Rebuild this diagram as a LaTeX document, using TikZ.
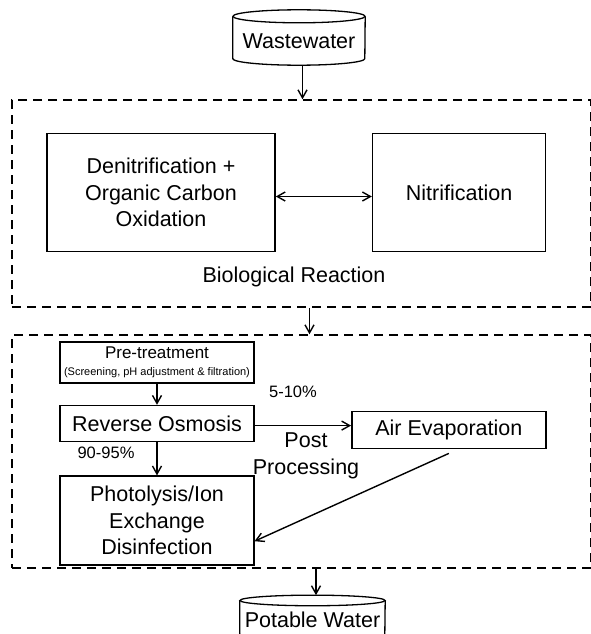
\documentclass[tikz,border=0pt]{standalone}
\usepackage{fontspec}
\setmainfont{Liberation Sans}
\usetikzlibrary{arrows.meta,positioning}

\begin{document}
\begin{tikzpicture}[x=1pt, y=-1pt, >={Straight Barb[length=8pt,width=9pt]},
    font=\fontsize{21.5}{26.5}\selectfont, node distance=20pt,
    box/.style={draw, line width=1.6pt, align=center, inner sep=0pt},
    frame/.style={draw, dash pattern=on 9pt off 6pt, line width=1.5pt, minimum width=579pt, inner sep=0pt},
    tank/.style={inner sep=0pt},
    tankline/.style={line width=1.3pt},
    flow/.style={->, line width=1.4pt}]
  \useasboundingbox (0,0) rectangle (590,634);
  \node[tank, minimum width=132pt, minimum height=48.5pt] (ww) at (299,40.75) {Wastewater};
  \draw[tankline] (ww.north) ellipse[x radius=66pt, y radius=6.5pt];
  \draw[tankline] (ww.north west) -- ([yshift=6.5pt]ww.south west) arc[start angle=180, end angle=360, x radius=66pt, y radius=6.5pt] -- (ww.north east);
  \node[frame, minimum height=207pt] (bio) at (301.5,203.5) {};
  \node[box, minimum width=228pt, minimum height=118pt] (denit) at (161,192.5) {Denitrification +\\Organic Carbon\\Oxidation};
  \node[box, right=96pt of denit, minimum width=173pt, minimum height=118pt] (nitr) {Nitrification};
  \node (biolbl) at (294,277) {Biological Reaction};
  \node[frame, minimum height=233pt] (post) at (301.5,451.5) {};
  \node[box, minimum width=193.5pt, minimum height=41pt, font=\fontsize{17}{17}\selectfont] (pre) at (157,362.5) {Pre-treatment\\{\fontsize{11}{11}\selectfont (Screening, pH adjustment \& filtration)}};
  \node[box, below=21pt of pre, minimum width=193.5pt, minimum height=36pt] (ro) {Reverse Osmosis};
  \node[box, below=33pt of ro, minimum width=193.5pt, minimum height=89pt] (photo) {Photolysis/Ion\\Exchange\\Disinfection};
  \node[box, right=96.5pt of ro, yshift=-6.5pt, minimum width=194pt, minimum height=37pt] (air) {Air Evaporation};
  \node[font=\fontsize{16.5}{16.5}\selectfont] (pct5) at (293,392) {5-10\%};
  \node[font=\fontsize{16.5}{16.5}\selectfont] (pct90) at (106,453) {90-95\%};
  \node[align=center] (postlbl) at (306,456) {Post\\Processing};
  \node[tank, minimum width=145pt, minimum height=38.7pt] (pw) at (312.5,620) {Potable Water};
  \draw[tankline] (pw.north) ellipse[x radius=72.5pt, y radius=5.3pt];
  \draw[tankline] (pw.north west) -- ([yshift=5.3pt]pw.south west) arc[start angle=180, end angle=360, x radius=72.5pt, y radius=5.3pt] -- (pw.north east);
  \draw[flow] ([xshift=3.5pt]ww.south) -- ([xshift=3.5pt]ww.south |- bio.north);
  \draw[<->, line width=1.4pt] ([yshift=-4pt]denit.east) -- ([yshift=-4pt]nitr.west);
  \draw[flow] ([xshift=8pt]bio.south) -- ([xshift=8pt]bio.south |- post.north);
  \draw[flow] (pre) -- (ro);
  \draw[flow] (ro) -- (photo);
  \draw[flow] ([yshift=-2pt]ro.east) -- ([yshift=-2pt]ro.east -| air.west);
  \draw[flow] ([yshift=-4pt]air.south) -- ([yshift=-20.5pt]photo.east);
  \draw[flow] ([xshift=3.5pt]pw.north |- post.south) -- ([xshift=3.5pt,yshift=5.3pt]pw.north);
\end{tikzpicture}
\end{document}
